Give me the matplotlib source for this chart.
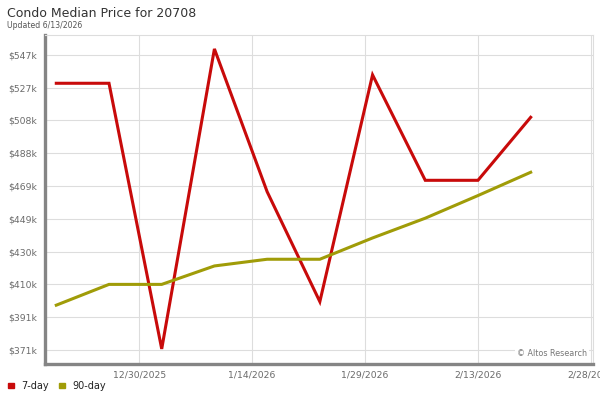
import matplotlib
matplotlib.use("Agg")
import matplotlib.pyplot as plt
import numpy as np
import pandas as pd

# weekly points
dates = pd.to_datetime(["2025-12-19", "2025-12-26", "2026-01-02", "2026-01-09",
                        "2026-01-16", "2026-01-23", "2026-01-30", "2026-02-06",
                        "2026-02-13", "2026-02-20"])
day7 = [530100, 530100, 371600, 550600, 465400, 399800, 535100, 472200, 472200, 509800]
day90 = [397700, 410100, 410100, 421100, 425100, 425100, 437800, 449600, 463100, 477000]

xticks = pd.to_datetime(["2025-12-30", "2026-01-14", "2026-01-29", "2026-02-13", "2026-02-28"])
xlabels = ["12/30/2025", "1/14/2026", "1/29/2026", "2/13/2026", "2/28/2026"]
yticks = np.linspace(371000, 547000, 10)

red = "#c80a0a"
olive = "#a09c08"
grid_c = "#dddddd"
tick_c = "#6a6a6a"

fig = plt.figure(figsize=(6, 4), dpi=100)
ax = fig.add_axes([0.075, 0.09, 0.913, 0.8225])

ax.plot(dates, day7, color=red, lw=2.2, solid_joinstyle="miter", zorder=3)
ax.plot(dates, day90, color=olive, lw=2.2, solid_joinstyle="miter", zorder=3)

ax.set_xlim(pd.Timestamp("2025-12-17 12:00"), pd.Timestamp("2026-02-28 06:00"))
ax.set_ylim(362600, 558900)

ax.set_xticks(xticks)
ax.set_xticklabels(xlabels)
ax.set_yticks(yticks)
ax.set_yticklabels([f"${v/1000:.0f}k" for v in yticks])

ax.tick_params(length=0, labelsize=6.7, colors=tick_c, pad=6)
ax.tick_params(axis="x", pad=5)
ax.grid(True, color=grid_c, lw=0.8, zorder=0)
ax.set_axisbelow(True)

for s in ["top", "right"]:
    ax.spines[s].set_color(grid_c)
    ax.spines[s].set_linewidth(0.8)
for s in ["left", "bottom"]:
    ax.spines[s].set_color("#858585")
    ax.spines[s].set_linewidth(2.4)

fig.text(0.012, 0.967, "Condo Median Price for 20708", fontsize=9.0,
         color="#333333", va="center", ha="left")
fig.text(0.012, 0.937, "Updated 6/13/2026", fontsize=5.6, color="#555555",
         va="center", ha="left")

ax.text(0.99, 0.032, "© Altos Research", transform=ax.transAxes, fontsize=5.8,
        color="#777777", ha="right", va="center",
        bbox=dict(facecolor="white", edgecolor="none", pad=1.5), zorder=4)

# legend at the bottom left
fig.patches.append(plt.Rectangle((0.0135, 0.029), 0.0095, 0.014, color=red,
                                 transform=fig.transFigure, figure=fig))
fig.text(0.036, 0.035, "7-day", fontsize=7, color="#222222", va="center")
fig.patches.append(plt.Rectangle((0.098, 0.029), 0.0095, 0.014, color=olive,
                                 transform=fig.transFigure, figure=fig))
fig.text(0.121, 0.035, "90-day", fontsize=7, color="#222222", va="center")

fig.savefig("out.png", dpi=100)
